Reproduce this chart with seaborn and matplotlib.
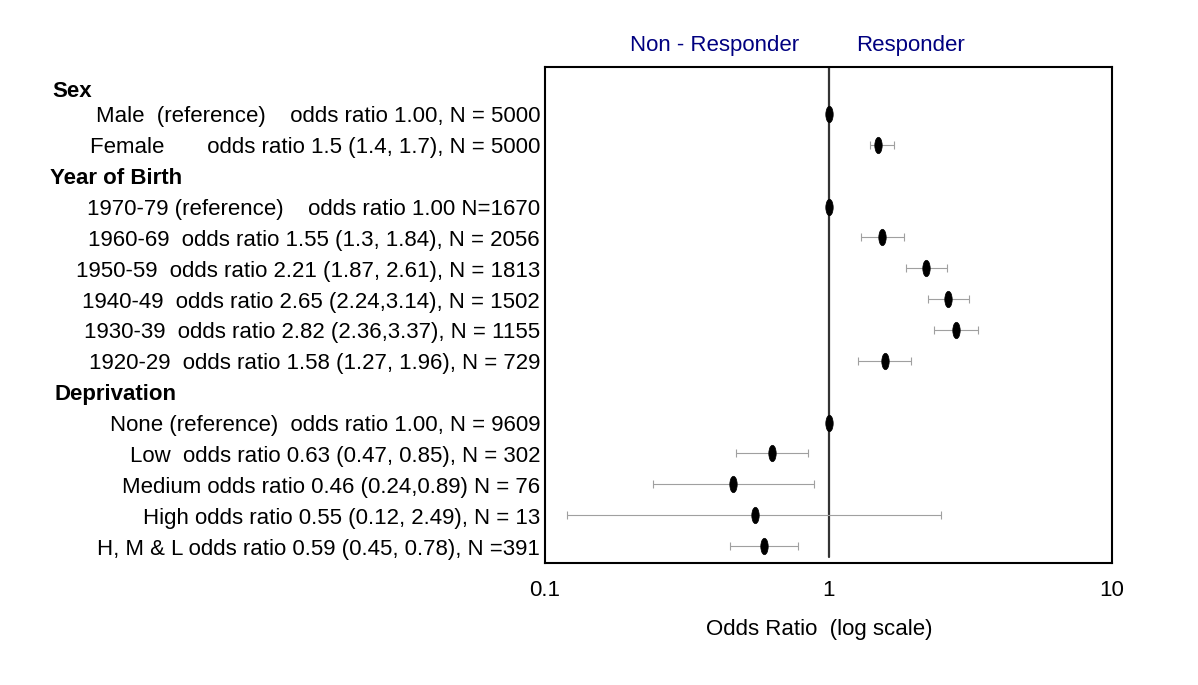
import matplotlib
matplotlib.use("Agg")
import matplotlib.pyplot as plt
import matplotlib.transforms as mtransforms
from matplotlib.path import Path
import seaborn as sns
import pandas as pd
import numpy as np

# ---- data ----
row_labels = [
    "Sex",
    "Male  (reference)    odds ratio 1.00, N = 5000",
    "Female       odds ratio 1.5 (1.4, 1.7), N = 5000",
    "Year of Birth",
    "1970-79 (reference)    odds ratio 1.00 N=1670",
    "1960-69  odds ratio 1.55 (1.3, 1.84), N = 2056",
    "1950-59  odds ratio 2.21 (1.87, 2.61), N = 1813",
    "1940-49  odds ratio 2.65 (2.24,3.14), N = 1502",
    "1930-39  odds ratio 2.82 (2.36,3.37), N = 1155",
    "1920-29  odds ratio 1.58 (1.27, 1.96), N = 729",
    "Deprivation",
    "None (reference)  odds ratio 1.00, N = 9609",
    "Low  odds ratio 0.63 (0.47, 0.85), N = 302",
    "Medium odds ratio 0.46 (0.24,0.89) N = 76",
    "High odds ratio 0.55 (0.12, 2.49), N = 13",
    "H, M & L odds ratio 0.59 (0.45, 0.78), N =391",
]
is_header = [True, False, False, True, False, False, False, False, False, False,
             True, False, False, False, False, False]
odds_ratio = [np.nan, 1.00, 1.5, np.nan, 1.00, 1.55, 2.21, 2.65, 2.82, 1.58,
              np.nan, 1.00, 0.63, 0.46, 0.55, 0.59]
ci_low = [np.nan, np.nan, 1.4, np.nan, np.nan, 1.3, 1.87, 2.24, 2.36, 1.27,
          np.nan, np.nan, 0.47, 0.24, 0.12, 0.45]
ci_high = [np.nan, np.nan, 1.7, np.nan, np.nan, 1.84, 2.61, 3.14, 3.37, 1.96,
           np.nan, np.nan, 0.85, 0.89, 2.49, 0.78]
header_x_px = {"Sex": 52, "Year of Birth": 50, "Deprivation": 54}
x_ticks = [0.1, 1, 10]
x_tick_labels = ["0.1", "1", "10"]

df = pd.DataFrame({"label": row_labels, "header": is_header, "or": odds_ratio,
                   "lo": ci_low, "hi": ci_high})
df["row"] = np.arange(len(df))

sns.set_style("white")
plt.rcParams["font.family"] = ["Liberation Sans", "DejaVu Sans"]
plt.rcParams["text.color"] = "black"
plt.rcParams["xtick.color"] = "black"
plt.rcParams["axes.labelcolor"] = "black"

FS = 16
W, H = 1198, 685
fig = plt.figure(figsize=(W / 100, H / 100), dpi=100)
ax = fig.add_axes([545 / W, 1 - 563 / H, (1112 - 545) / W, (563 - 67) / H])

# error bars
ci = df.dropna(subset=["lo"])
ax.errorbar(ci["or"], ci["row"],
            xerr=[ci["or"] - ci["lo"], ci["hi"] - ci["or"]],
            fmt="none", ecolor="#a0a0a0", elinewidth=0.8, capsize=3,
            capthick=0.8, zorder=2)

# reference line
ax.axvline(1, ymin=0.012, ymax=1, color="#333333", lw=1.6, zorder=1)

# points (vertical rounded ovals)
oval = Path.unit_circle()
oval = Path(oval.vertices * np.array([0.45, 1.0]), oval.codes)
pts = df.dropna(subset=["or"])
sns.scatterplot(data=pts, x="or", y="row", ax=ax, marker=oval, s=140,
                color="black", edgecolor="black", linewidth=0.5, zorder=3,
                legend=False)

ax.set_xscale("log")
ax.set_xlim(0.1, 10)
ax.set_ylim(15.55, -0.52)
ax.set_xticks(x_ticks)
ax.set_xticklabels(x_tick_labels, fontsize=FS)
ax.minorticks_off()
ax.set_yticks([])
ax.tick_params(axis="x", length=0, pad=12.5)
ax.set_xlabel("Odds Ratio  (log scale)", fontsize=FS, labelpad=13)
ax.xaxis.label.set_x(0.483)
ax.set_ylabel("")
for sp in ax.spines.values():
    sp.set_visible(True)
    sp.set_color("black")
    sp.set_linewidth(1.5)

# row labels
trans_r = mtransforms.blended_transform_factory(fig.transFigure, ax.transData)
row_shift = mtransforms.ScaledTranslation(0, -3 / 100, fig.dpi_scale_trans)
header_shift = mtransforms.ScaledTranslation(0, -8 / 100, fig.dpi_scale_trans)
for _, r in df.iterrows():
    if r["header"]:
        t = trans_r + (header_shift if r["row"] == 0 else row_shift)
        ax.text(header_x_px[r["label"]] / W, r["row"], r["label"], transform=t,
                ha="left", va="center", fontsize=FS, fontweight="bold")
    else:
        ax.text(540 / W, r["row"], r["label"], transform=trans_r + row_shift,
                ha="right", va="center", fontsize=FS)

fig.text(715 / W, 1 - 46 / H, "Non - Responder", color="#000080", fontsize=FS,
         ha="center", va="center")
fig.text(911 / W, 1 - 46 / H, "Responder", color="#000080", fontsize=FS,
         ha="center", va="center")

fig.savefig("out.png", dpi=100, facecolor="white")
